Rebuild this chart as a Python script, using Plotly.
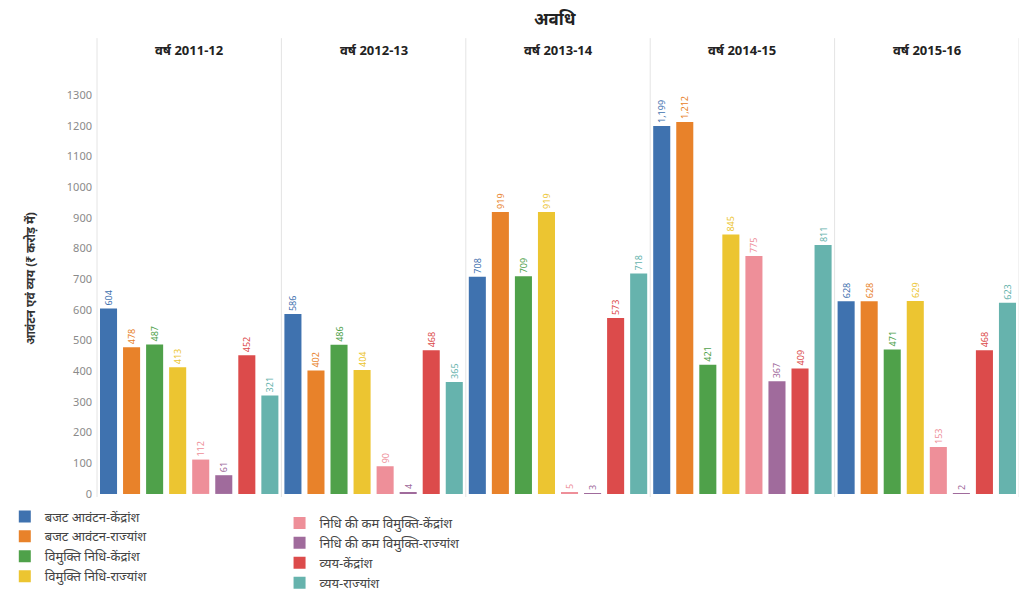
import plotly.graph_objects as go
from plotly.subplots import make_subplots

# Periods (facets)
years = ["वर्ष 2011-12", "वर्ष 2012-13", "वर्ष 2013-14", "वर्ष 2014-15", "वर्ष 2015-16"]

# Series names (legend order)
series = [
    "बजट आवंटन-केंद्रांश",
    "बजट आवंटन-राज्यांश",
    "विमुक्ति निधि-केंद्रांश",
    "विमुक्ति निधि-राज्यांश",
    "निधि की कम विमुक्ति-केंद्रांश",
    "निधि की कम विमुक्ति-राज्यांश",
    "व्यय-केंद्रांश",
    "व्यय-राज्यांश",
]

# Values (₹ crore), one list per series across the five years
budget_centre = [604, 586, 708, 1199, 628]
budget_state = [478, 402, 919, 1212, 628]
release_centre = [487, 486, 709, 421, 471]
release_state = [413, 404, 919, 845, 629]
short_centre = [112, 90, 5, 775, 153]
short_state = [61, 4, 3, 367, 2]
spend_centre = [452, 468, 573, 409, 468]
spend_state = [321, 365, 718, 811, 623]

values = [budget_centre, budget_state, release_centre, release_state,
          short_centre, short_state, spend_centre, spend_state]

colors = ["#3f72af", "#e8822a", "#4fa14a", "#ecc531",
          "#ee8f99", "#a06b9c", "#dc4b4b", "#66b3ad"]

y_ticks = list(range(0, 1400, 100))
y_ticktext = [str(v) for v in y_ticks]

FONT = "Noto Sans, DejaVu Sans, sans-serif"

fig = make_subplots(rows=1, cols=5, shared_yaxes=True, horizontal_spacing=0)

for si, (name, vals, col) in enumerate(zip(series, values, colors)):
    for yi in range(len(years)):
        v = vals[yi]
        label = f"{v:,}"
        fig.add_trace(
            go.Bar(
                x=[si], y=[v], name=name,
                marker=dict(color=col, line=dict(width=0)),
                text=[label], textposition="outside", textangle=-90,
                constraintext="none",
                textfont=dict(size=9, color=col, family=FONT),
                cliponaxis=False,
                legendgroup=name,
                showlegend=(yi == 0),
                legend="legend" if si < 4 else "legend2",
                hovertemplate=f"{years[yi]}<br>{name}: %{{y}}<extra></extra>",
            ),
            row=1, col=yi + 1,
        )

for c in range(1, 6):
    fig.update_xaxes(range=[-0.5, 7.5], showticklabels=False, showgrid=False,
                     zeroline=False, showline=False, ticks="", row=1, col=c)

fig.update_yaxes(showgrid=False, zeroline=False)
fig.update_yaxes(range=[-10, 1414], tickvals=y_ticks, ticktext=y_ticktext,
                 showline=False, ticks="", ticklabelstandoff=4,
                 tickfont=dict(size=11, color="#8a8a8a", family=FONT),
                 title=dict(text="<b>आवंटन एवं व्यय (₹ करोड़ में)</b>",
                            font=dict(size=12, color="#333333", family=FONT),
                            standoff=28),
                 row=1, col=1)

# Facet separators
shapes = []
for k in range(6):
    xp = k / 5
    shapes.append(dict(type="line", xref="paper", yref="paper",
                       x0=xp, x1=xp, y0=0, y1=1.05,
                       line=dict(color="#e4e4e4", width=1)))
fig.update_layout(shapes=shapes)

annotations = [
    dict(text="<b>अवधि</b>", x=0.497, y=1.096, xref="paper", yref="paper",
         showarrow=False, font=dict(size=17, color="#222222", family=FONT),
         xanchor="center", yanchor="middle"),
]
for k, yr in enumerate(years):
    annotations.append(dict(text=f"<b>{yr}</b>", x=(k + 0.5) / 5, y=1.023,
                            xref="paper", yref="paper", showarrow=False,
                            font=dict(size=13, color="#222222", family=FONT),
                            xanchor="center", yanchor="middle"))
fig.update_layout(annotations=annotations)

fig.update_layout(
    width=1019, height=598,
    margin=dict(l=97, r=0, t=60, b=100),
    paper_bgcolor="white", plot_bgcolor="white",
    barmode="overlay", bargap=0.26,
    font=dict(family=FONT),
    legend=dict(x=-0.1, y=-0.008, xanchor="left", yanchor="top",
                orientation="v", font=dict(size=13, color="#444444", family=FONT),
                tracegroupgap=0, itemwidth=30, bgcolor="rgba(0,0,0,0)"),
    legend2=dict(x=0.198, y=-0.025, xanchor="left", yanchor="top",
                 orientation="v", font=dict(size=13, color="#444444", family=FONT),
                 tracegroupgap=0, itemwidth=30, bgcolor="rgba(0,0,0,0)"),
)

fig.write_html("out.html")
